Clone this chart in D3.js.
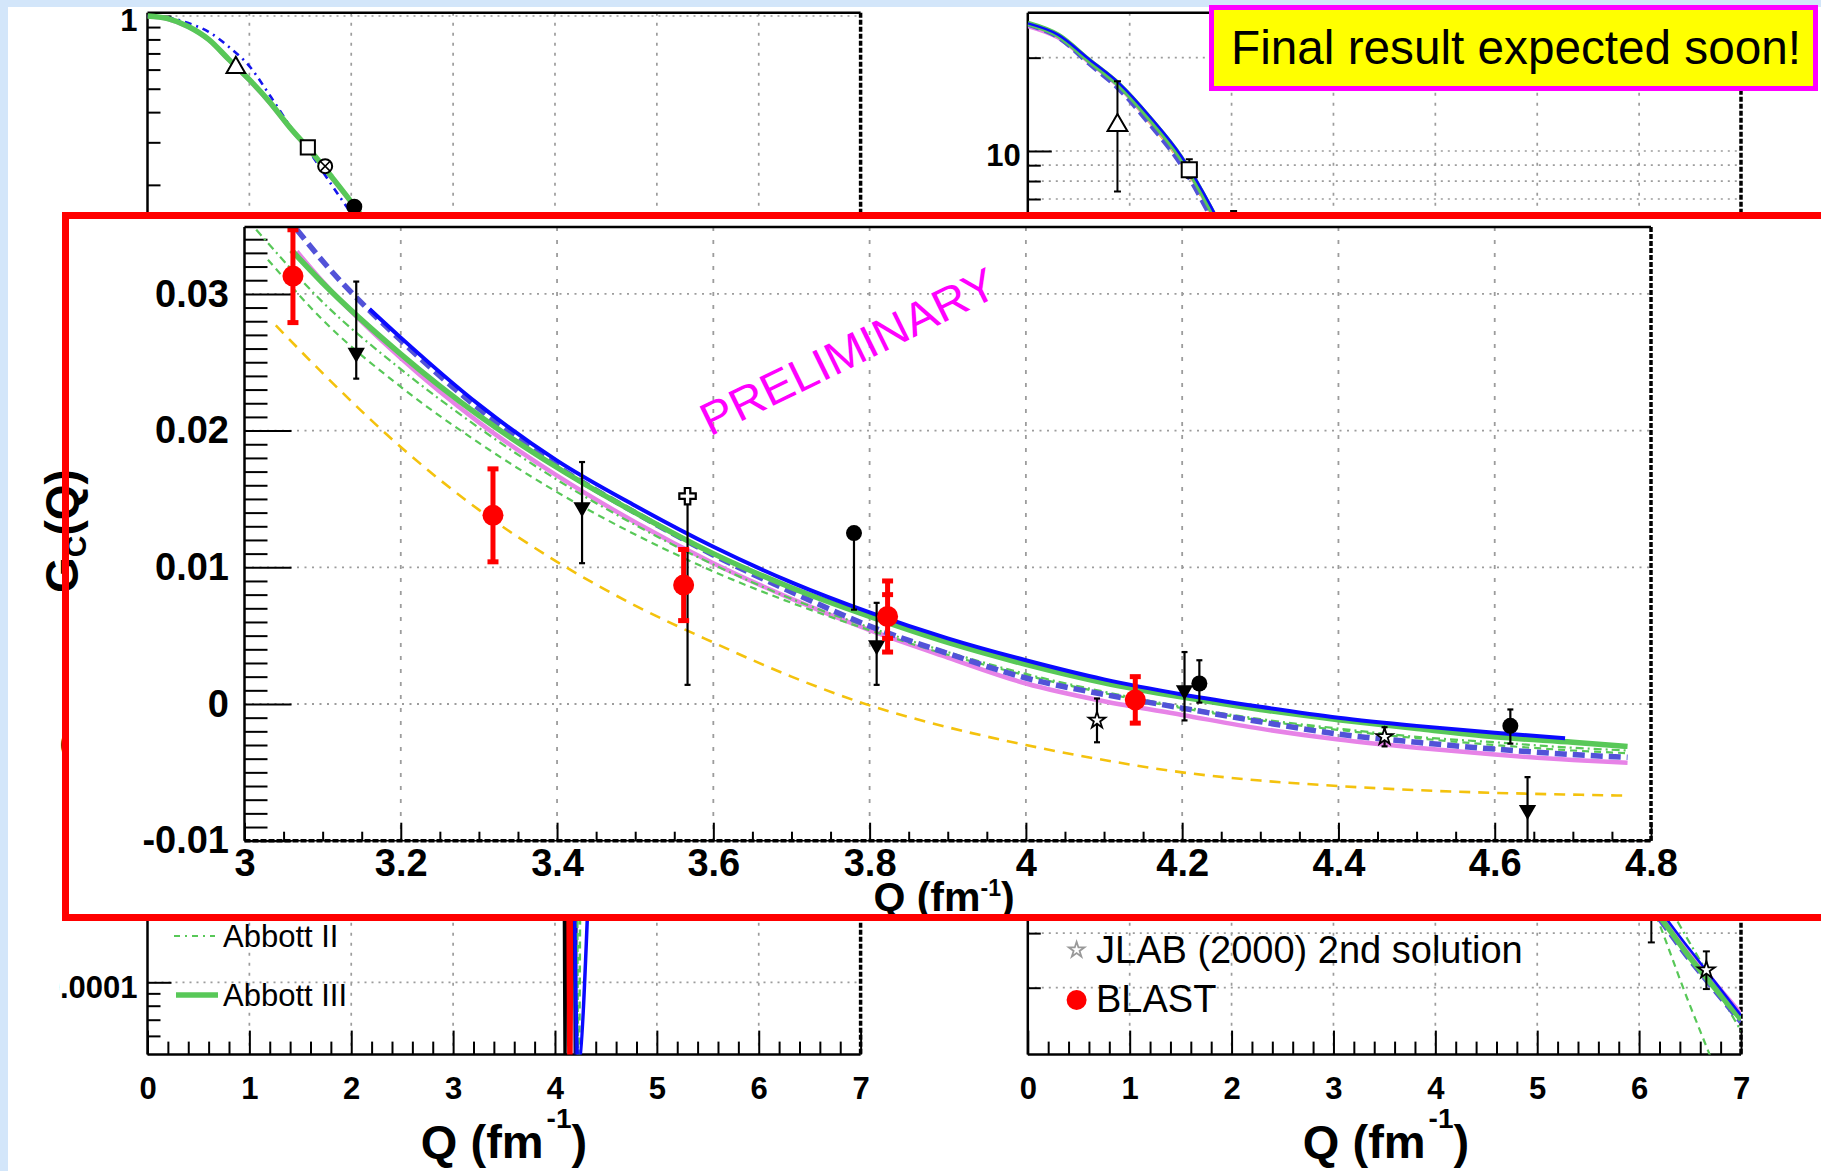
<!DOCTYPE html>
<html>
<head>
<meta charset="utf-8">
<title>Deuteron form factors</title>
<script src="https://cdn.jsdelivr.net/npm/d3@7/dist/d3.min.js"></script>
<style>
  html, body { margin: 0; padding: 0; background: #d3e6fa; overflow: hidden; }
  svg { display: block; }
  text { font-family: 'Liberation Sans', Arial, Helvetica, sans-serif; }
</style>
</head>
<body>
<svg id="slide" width="1821" height="1171"></svg>
<script>
// ================= zoomed panel: G_C(Q), 3 < Q < 4.8 fm^-1 =================
const zoomTickQ = [3, 3.2, 3.4, 3.6, 3.8, 4, 4.2, 4.4, 4.6, 4.8];
const zoomTickG = [-0.01, 0, 0.01, 0.02, 0.03];

const abbottIIIQ = [3.06, 3.1, 3.2, 3.3, 3.4, 3.5, 3.6, 3.7, 3.8, 3.9, 4.0, 4.1, 4.2, 4.3, 4.4, 4.5, 4.6, 4.7, 4.77];
const abbottIIIG = [0.0332, 0.0308, 0.0256, 0.0211, 0.0173, 0.0140, 0.0110, 0.0085, 0.0064, 0.0045, 0.0029, 0.00155, 0.0005, -0.0004, -0.00115, -0.0018, -0.0024, -0.0028, -0.0031];

const abbottIIQ = [3.015, 3.1, 3.2, 3.3, 3.4, 3.5, 3.6, 3.7, 3.8, 3.9, 4.0, 4.1, 4.2, 4.3, 4.4, 4.5, 4.6, 4.7, 4.77];
const abbottIIG = [0.0347, 0.0294, 0.0245, 0.0202, 0.0164, 0.0131, 0.0102, 0.0077, 0.0056, 0.0038, 0.0022, 0.0009, -0.0002, -0.0011, -0.0018, -0.0024, -0.0028, -0.0032, -0.0034];

const abbottIQ = [3.03, 3.1, 3.2, 3.3, 3.4, 3.5, 3.6, 3.7, 3.8, 3.9, 4.0, 4.1, 4.2, 4.3, 4.4, 4.5, 4.6, 4.7, 4.77];
const abbottIG = [0.0325, 0.0281, 0.0232, 0.0191, 0.0155, 0.0124, 0.0097, 0.0074, 0.0054, 0.0036, 0.0021, 0.0008, -0.0003, -0.0012, -0.0019, -0.0025, -0.0030, -0.0034, -0.0036];

const solidBlueQ = [3.16, 3.2, 3.3, 3.4, 3.5, 3.6, 3.7, 3.8, 3.9, 4.0, 4.1, 4.2, 4.3, 4.4, 4.5, 4.6, 4.69];
const solidBlueG = [0.0289, 0.0268, 0.0219, 0.0178, 0.0145, 0.0115, 0.0089, 0.0067, 0.0048, 0.0032, 0.0018, 0.0007, -0.0002, -0.0010, -0.0016, -0.0021, -0.0025];

const dashedBlueQ = [3.067, 3.1, 3.2, 3.3, 3.4, 3.5, 3.6, 3.7, 3.8, 3.9, 4.0, 4.1, 4.2, 4.3, 4.4, 4.5, 4.6, 4.7, 4.77];
const dashedBlueG = [0.0347, 0.0324, 0.0266, 0.0216, 0.0174, 0.0140, 0.0109, 0.0082, 0.0057, 0.0037, 0.0019, 0.0007, -0.0003, -0.0013, -0.0022, -0.0028, -0.0033, -0.0037, -0.0039];

const violetQ = [3.067, 3.1, 3.2, 3.3, 3.4, 3.5, 3.6, 3.7, 3.8, 3.9, 4.0, 4.1, 4.2, 4.3, 4.4, 4.5, 4.6, 4.7, 4.77];
const violetG = [0.0331, 0.0309, 0.0253, 0.0206, 0.0167, 0.0133, 0.0103, 0.0077, 0.0054, 0.0034, 0.0015, 0.0002, -0.0008, -0.0018, -0.0026, -0.0032, -0.0037, -0.0041, -0.0043];

const goldQ = [3.04, 3.1, 3.2, 3.3, 3.4, 3.5, 3.6, 3.7, 3.8, 3.9, 4.0, 4.1, 4.2, 4.3, 4.4, 4.5, 4.6, 4.7, 4.765];
const goldG = [0.0277, 0.0242, 0.0188, 0.0142, 0.0104, 0.0072, 0.0045, 0.0020, -0.0001, -0.0017, -0.0030, -0.0041, -0.0050, -0.0056, -0.0060, -0.0063, -0.0065, -0.00663, -0.0067];

// BLAST (preliminary)
const blastQ = [3.062, 3.318, 3.562, 3.823, 4.140];
const blastG = [0.0313, 0.0138, 0.0087, 0.0064, 0.0003];
const blastErr = [0.0034, 0.0034, 0.0026, 0.0026, 0.0017];
const blastInnerErr = [0, 0, 0, 0.0016, 0];

// earlier measurements
const triQ = [3.143, 3.432, 3.809, 4.203, 4.642];
const triG = [0.0257, 0.0144, 0.0043, 0.0010, -0.00775];
const triErrHi = [0.0052, 0.0033, 0.0031, 0.0028, 0.0024];
const triErrLo = [0.0019, 0.0041, 0.0029, 0.0022, 0.0022];

const dotQ = [3.780, 4.222, 4.620];
const dotG = [0.0125, 0.0015, -0.0016];
const dotErrHi = [0.0003, 0.0017, 0.0012];
const dotErrLo = [0.0056, 0.0014, 0.0013];

const crossQ = [3.567];
const crossG = [0.0152];
const crossErrHi = [0.0004];
const crossErrLo = [0.0138];

const starQ = [4.091, 4.459];
const starG = [-0.0012, -0.0024];
const starErr = [0.0016, 0.0007];

// ================= left panel: |G_C(Q)|, log scale =================
const leftTickQ = [0, 1, 2, 3, 4, 5, 6, 7];
const leftQ = [0, 0.2, 0.4, 0.6, 0.8, 1.0, 1.2, 1.4, 1.6, 1.8, 2.0, 2.2, 2.4];
const leftAbbottIII = [1.0, 0.975, 0.905, 0.80, 0.66, 0.545, 0.44, 0.345, 0.277, 0.218, 0.17, 0.13, 0.097];
const leftViolet = [0.995, 0.97, 0.9, 0.795, 0.655, 0.54, 0.436, 0.342, 0.274, 0.215, 0.168, 0.128, 0.096];
const leftDashDot = [1.0, 0.985, 0.935, 0.86, 0.745, 0.62, 0.47, 0.35, 0.27, 0.202, 0.152, 0.113, 0.083];

// minima of |G_C| near its zero crossing
const dipBlackQ = [4.085, 4.100, 4.115];
const dipRedQ = [4.13, 4.148, 4.166];
const dipNavyQ = [4.185, 4.200, 4.215];
const dipGreenQ = [4.215, 4.232, 4.249];
const dipG = [4e-4, 3e-5, 4e-4];
const dipBlueQ = [4.19, 4.226, 4.33];
const dipBlueG = [2.5e-4, 4.5e-5, 2.5e-4];

const leftTriQ = [0.867], leftTriG = [0.612];
const leftSquareQ = [1.574], leftSquareG = [0.286];
const leftCircleXQ = [1.744], leftCircleXG = [0.239];
const leftDotQ = [2.03], leftDotG = [0.1625];

const leftLegend = ['Abbott II', 'Abbott III'];

// ================= right panel: G_Q(Q), log scale =================
const rightTickQ = [0, 1, 2, 3, 4, 5, 6, 7];
const rightQ = [0, 0.3, 0.6, 0.9, 1.2, 1.5, 1.8, 2.1, 2.5, 3, 3.5, 4, 4.5, 5, 5.5, 6, 6.5, 7];
const rightAbbottIII = [25.8, 23.6, 19.6, 16.3, 12.7, 9.55, 6.46, 4.0, 2.0, 0.89, 0.43, 0.22, 0.126, 0.079, 0.055, 0.041, 0.025, 0.0158];
const rightSolidBlue = [25.8, 23.7, 19.8, 16.5, 12.9, 9.7, 6.6, 4.1, 2.05, 0.91, 0.44, 0.225, 0.13, 0.082, 0.057, 0.0425, 0.0265, 0.0163];
const rightDashedBlue = [25.6, 23.3, 19.2, 15.8, 12.2, 9.1, 6.1, 3.8, 1.9, 0.85, 0.41, 0.21, 0.12, 0.076, 0.053, 0.040, 0.0245, 0.0155];
const rightViolet = [25.3, 23.2, 19.4, 16.1, 12.5, 9.4, 6.35, 3.95, 1.98, 0.88, 0.425, 0.218, 0.125, 0.079, 0.0555, 0.0415, 0.0258, 0.0165];
const rightAbbottI = [25.8, 23.5, 19.5, 16.1, 12.5, 9.4, 6.3, 3.9, 1.95, 0.86, 0.41, 0.2, 0.12, 0.085, 0.068, 0.045, 0.0175, 0.0068];
const rightAbbottII = [25.8, 23.6, 19.7, 16.2, 12.6, 9.5, 6.4, 3.95, 1.97, 0.87, 0.42, 0.21, 0.125, 0.09, 0.07, 0.052, 0.0278, 0.0145];
const rightGoldQ = [0, 0.3, 0.6, 0.9, 1.2, 1.5, 1.8, 2.1, 2.5, 3, 3.5, 4, 4.5];
const rightGold = [25.5, 23.3, 19.4, 16.0, 12.3, 9.2, 6.2, 3.85, 1.9, 0.84, 0.40, 0.2, 0.11];

const rightTriQ = [0.88], rightTriG = [12.1], rightTriHi = [16.8], rightTriLo = [7.4];
const rightSquareQ = [1.585], rightSquareG = [8.7], rightSquareHi = [9.4], rightSquareLo = [8.2];
const rightDownQ = [2.02, 6.12], rightDownG = [4.3, 0.037], rightDownHi = [6.4, 0.041], rightDownLo = [2.9, 0.028];
const rightStarQ = [6.66], rightStarG = [0.0228], rightStarHi = [0.0262], rightStarLo = [0.0198];

const rightLegend = ['JLAB (2000) 2nd solution', 'BLAST'];

// ====================================================================
const svg = d3.select('#slide');
const defs = svg.append('defs');
const GRID = '#9c9c9c';
const GREEN = '#58c858';
let clipCount = 0;
function clipRect(x, y, w, h) {
  const id = 'clip' + (clipCount++);
  defs.append('clipPath').attr('id', id).append('rect')
    .attr('x', x).attr('y', y).attr('width', w).attr('height', h);
  return `url(#${id})`;
}
const zip = (Q, V) => Q.map((q, i) => [q, V[i]]);

function curve(g, xs, ys, Q, V, st) {
  g.append('path').datum(zip(Q, V))
    .attr('fill', 'none')
    .attr('stroke', st.color)
    .attr('stroke-width', st.width)
    .attr('stroke-dasharray', st.dash || null)
    .attr('d', d3.line().x(d => xs(d[0])).y(d => ys(d[1])).curve(d3.curveMonotoneX));
}

function errBar(g, X, y1, y2, color, width, capW) {
  g.append('line').attr('x1', X).attr('x2', X).attr('y1', y1).attr('y2', y2)
    .attr('stroke', color).attr('stroke-width', width);
  if (capW > 0) {
    [y1, y2].forEach(yy => g.append('line')
      .attr('x1', X - capW / 2).attr('x2', X + capW / 2).attr('y1', yy).attr('y2', yy)
      .attr('stroke', color).attr('stroke-width', width));
  }
}

function marker(g, kind, X, Y, size) {
  const s = d3.symbol();
  if (kind === 'triUpOpen') {
    g.append('path').attr('d', s.type(d3.symbolTriangle).size(size)())
      .attr('transform', `translate(${X},${Y})`)
      .attr('fill', '#fff').attr('stroke', '#000').attr('stroke-width', 2);
  } else if (kind === 'triDown') {
    g.append('path').attr('d', s.type(d3.symbolTriangle).size(size)())
      .attr('transform', `translate(${X},${Y}) rotate(180)`).attr('fill', '#000');
  } else if (kind === 'squareOpen') {
    g.append('path').attr('d', s.type(d3.symbolSquare).size(size)())
      .attr('transform', `translate(${X},${Y})`)
      .attr('fill', '#fff').attr('stroke', '#000').attr('stroke-width', 2);
  } else if (kind === 'dot') {
    g.append('circle').attr('cx', X).attr('cy', Y).attr('r', size).attr('fill', '#000');
  } else if (kind === 'red') {
    g.append('circle').attr('cx', X).attr('cy', Y).attr('r', size).attr('fill', '#ff0000');
  } else if (kind === 'circleX') {
    g.append('circle').attr('cx', X).attr('cy', Y).attr('r', size)
      .attr('fill', '#fff').attr('stroke', '#000').attr('stroke-width', 2);
    const k = size * 0.7;
    g.append('path').attr('d', `M${X - k},${Y - k}L${X + k},${Y + k}M${X - k},${Y + k}L${X + k},${Y - k}`)
      .attr('stroke', '#000').attr('stroke-width', 1.6);
  } else if (kind === 'starOpen' || kind === 'starGrey') {
    g.append('path').attr('d', s.type(d3.symbolStar).size(size)())
      .attr('transform', `translate(${X},${Y})`)
      .attr('fill', '#fff').attr('stroke', kind === 'starGrey' ? '#999' : '#000').attr('stroke-width', 1.8);
  } else if (kind === 'crossOpen') {
    g.append('path').attr('d', s.type(d3.symbolCross).size(size)())
      .attr('transform', `translate(${X},${Y})`)
      .attr('fill', '#fff').attr('stroke', '#000').attr('stroke-width', 2.2);
  }
}

function styleAxisText(sel, size) {
  sel.selectAll('text').attr('fill', '#000').attr('font-size', size).attr('font-weight', 'bold')
    .style('font-family', "'Liberation Sans', Arial, Helvetica, sans-serif");
  sel.selectAll('line').attr('stroke', '#000').attr('stroke-width', 2);
  sel.select('.domain').remove();
}

// ---------- page ----------
svg.append('rect').attr('width', 1821).attr('height', 1171).attr('fill', '#d3e6fa');
svg.append('rect').attr('x', 8).attr('y', 7).attr('width', 1813).attr('height', 1164).attr('fill', '#fff');

// ---------- generic log-scale panel ----------
function logPanel(opt) {
  const root = svg.append('g');
  if (opt.clipLeft) root.attr('clip-path', clipRect(opt.clipLeft, 0, 1821, 1171));
  const xs = d3.scaleLinear().domain([0, 7]).range([opt.x0, opt.x1]);
  const ys = d3.scaleLog().domain(opt.yDomain).range([opt.yBot, opt.yTop]);
  const [lo, hi] = opt.yDomain;
  const decades = [], others = [];
  for (let k = -6; k <= 2; k++) {
    for (let n = 1; n <= 9; n++) {
      const v = +(n * Math.pow(10, k)).toPrecision(3);
      if (v < lo || v > hi) continue;
      (n === 1 ? decades : others).push(v);
    }
  }
  // grid
  const grid = root.append('g').attr('stroke', GRID).attr('stroke-width', 1.7).attr('fill', 'none');
  [1, 2, 3, 4, 5, 6].forEach(q => grid.append('line')
    .attr('x1', xs(q)).attr('x2', xs(q)).attr('y1', opt.yTop).attr('y2', opt.yBot)
    .attr('stroke-dasharray', '3,7'));
  const gridY = opt.gridAll ? decades.concat(others) : decades;
  gridY.forEach(v => grid.append('line')
    .attr('x1', opt.x0).attr('x2', opt.x1).attr('y1', ys(v)).attr('y2', ys(v))
    .attr('stroke-dasharray', '2,5'));

  // axes with inward ticks
  const minorQ = d3.range(0, 36).filter(i => i % 5 !== 0).map(i => i / 5);
  root.append('g').attr('transform', `translate(0,${opt.yBot})`)
    .call(d3.axisBottom(xs).tickValues(minorQ).tickSize(-13).tickFormat(''))
    .call(s => styleAxisText(s, 31));
  root.append('g').attr('transform', `translate(0,${opt.yBot})`)
    .call(d3.axisBottom(xs).tickValues(opt.tickQ).tickSize(-24).tickPadding(22.5).tickFormat(d3.format('d')))
    .call(s => styleAxisText(s, 31));
  root.append('g').attr('transform', `translate(${opt.x0},0)`)
    .call(d3.axisLeft(ys).tickValues(others).tickSize(-13).tickFormat(''))
    .call(s => styleAxisText(s, 31));
  root.append('g').attr('transform', `translate(${opt.x0},0)`)
    .call(d3.axisLeft(ys).tickValues(decades).tickSize(-24).tickPadding(opt.labelPad).tickFormat(v => String(v)))
    .call(s => styleAxisText(s, 31))
    .call(s => s.selectAll('text').attr('dy', '0.48em'));

  // frame
  const fr = root.append('g').attr('stroke', '#000').attr('fill', 'none');
  fr.append('line').attr('x1', opt.x0).attr('x2', opt.x1).attr('y1', opt.yTop).attr('y2', opt.yTop).attr('stroke-width', 2.5);
  fr.append('line').attr('x1', opt.x0).attr('x2', opt.x0).attr('y1', opt.yTop).attr('y2', opt.yBot).attr('stroke-width', 2.5);
  fr.append('line').attr('x1', opt.x0).attr('x2', opt.x1).attr('y1', opt.yBot).attr('y2', opt.yBot).attr('stroke-width', 2.5);
  fr.append('line').attr('x1', opt.x1).attr('x2', opt.x1).attr('y1', opt.yTop).attr('y2', opt.yBot)
    .attr('stroke-width', 3.5).attr('stroke-dasharray', '5,2');

  // x title
  const t = root.append('text').attr('x', opt.titleX).attr('y', 1158).attr('text-anchor', 'middle')
    .attr('font-size', 47).attr('font-weight', 'bold').attr('fill', '#000');
  t.append('tspan').text('Q (fm');
  t.append('tspan').attr('font-size', 28).attr('dy', -30).attr('dx', 3).text('-1');
  t.append('tspan').attr('dy', 30).text(')');

  const plot = root.append('g').attr('clip-path', clipRect(opt.x0, opt.yTop, opt.x1 - opt.x0, opt.yBot - opt.yTop));
  return { root, plot, xs, ys };
}

// ---------- left panel ----------
const LP = logPanel({ x0: 147.5, x1: 860.6, yTop: 12.7, yBot: 1054.6, yDomain: [5.02e-5, 1.032],
  tickQ: leftTickQ, labelPad: 10, titleX: 504, clipLeft: 59, gridAll: false });
curve(LP.plot, LP.xs, LP.ys, leftQ, leftViolet, { color: '#e783e7', width: 4 });
curve(LP.plot, LP.xs, LP.ys, leftQ, leftDashDot, { color: '#1515ee', width: 2.6, dash: '7,5,2,5' });
curve(LP.plot, LP.xs, LP.ys, leftQ, leftAbbottIII, { color: GREEN, width: 5.5 });
curve(LP.plot, LP.xs, LP.ys, dipBlackQ, dipG, { color: '#000', width: 2.5 });
curve(LP.plot, LP.xs, LP.ys, dipRedQ, dipG, { color: '#ff0000', width: 4.5 });
curve(LP.plot, LP.xs, LP.ys, dipNavyQ, dipG, { color: '#101070', width: 2.5 });
curve(LP.plot, LP.xs, LP.ys, dipGreenQ, dipG, { color: GREEN, width: 2.5, dash: '7,5' });
curve(LP.plot, LP.xs, LP.ys, dipBlueQ, dipBlueG, { color: '#0a0aff', width: 3.5 });
marker(LP.plot, 'triUpOpen', LP.xs(leftTriQ[0]), LP.ys(leftTriG[0]), 150);
marker(LP.plot, 'squareOpen', LP.xs(leftSquareQ[0]), LP.ys(leftSquareG[0]), 200);
marker(LP.plot, 'circleX', LP.xs(leftCircleXQ[0]), LP.ys(leftCircleXG[0]), 7);
marker(LP.plot, 'dot', LP.xs(leftDotQ[0]), LP.ys(leftDotG[0]), 8);

// legend (lower part of the left panel)
const lLeg = LP.root.append('g');
lLeg.append('line').attr('x1', 174).attr('x2', 215).attr('y1', 936).attr('y2', 936)
  .attr('stroke', GREEN).attr('stroke-width', 2.2).attr('stroke-dasharray', '6,5,2,5');
lLeg.append('line').attr('x1', 176).attr('x2', 218).attr('y1', 995).attr('y2', 995)
  .attr('stroke', GREEN).attr('stroke-width', 5.5);
leftLegend.forEach((s, i) => lLeg.append('text').attr('x', 223).attr('y', [947, 1006][i])
  .attr('font-size', 31).attr('fill', '#000').text(s));

// ---------- right panel ----------
const RP = logPanel({ x0: 1027.8, x1: 1741, yTop: 12.7, yBot: 1054.6, yDomain: [0.01217, 27.93],
  tickQ: rightTickQ, labelPad: 7, titleX: 1386, clipLeft: 0, gridAll: true });
curve(RP.plot, RP.xs, RP.ys, rightGoldQ, rightGold, { color: '#f4c20d', width: 2.5, dash: '10,7' });
curve(RP.plot, RP.xs, RP.ys, rightQ, rightViolet, { color: '#e783e7', width: 4.5 });
curve(RP.plot, RP.xs, RP.ys, rightQ, rightAbbottI, { color: GREEN, width: 2.2, dash: '7,5' });
curve(RP.plot, RP.xs, RP.ys, rightQ, rightAbbottII, { color: GREEN, width: 2.2, dash: '8,4,2,4' });
curve(RP.plot, RP.xs, RP.ys, rightQ, rightDashedBlue, { color: '#5252d8', width: 5, dash: '12,6' });
curve(RP.plot, RP.xs, RP.ys, rightQ, rightAbbottIII, { color: GREEN, width: 5.5 });
curve(RP.plot, RP.xs, RP.ys, rightQ, rightSolidBlue, { color: '#0a0aff', width: 2.5 });
function logPoints(P, kind, Q, G, Hi, Lo, size) {
  Q.forEach((q, i) => {
    errBar(P.plot, P.xs(q), P.ys(Hi[i]), P.ys(Lo[i]), '#000', 2, 7);
    marker(P.plot, kind, P.xs(q), P.ys(G[i]), size);
  });
}
logPoints(RP, 'triUpOpen', rightTriQ, rightTriG, rightTriHi, rightTriLo, 170);
logPoints(RP, 'squareOpen', rightSquareQ, rightSquareG, rightSquareHi, rightSquareLo, 230);
logPoints(RP, 'triDown', rightDownQ, rightDownG, rightDownHi, rightDownLo, 130);
logPoints(RP, 'starOpen', rightStarQ, rightStarG, rightStarHi, rightStarLo, 90);

const rLeg = RP.root.append('g');
marker(rLeg, 'starGrey', 1076.6, 950, 75);
marker(rLeg, 'red', 1076.6, 1000, 10);
rightLegend.forEach((s, i) => rLeg.append('text').attr('x', 1096).attr('y', [963, 1012][i])
  .attr('font-size', 38).attr('fill', '#000').text(s));

// ---------- note box ----------
svg.append('rect').attr('x', 1211.5).attr('y', 7.5).attr('width', 604).attr('height', 81)
  .attr('fill', '#ffff00').attr('stroke', '#ff00ff').attr('stroke-width', 5);
svg.append('text').attr('x', 1231).attr('y', 64).attr('font-size', 48).attr('fill', '#000')
  .attr('textLength', 570).attr('lengthAdjust', 'spacingAndGlyphs')
  .text('Final result expected soon!');

// ---------- zoomed G_C panel ----------
const Z = { x0: 244.5, x1: 1651, yTop: 226.9, yBot: 840.7 };
const zx = d3.scaleLinear().domain([3, 4.8]).range([Z.x0, Z.x1]);
const zy = d3.scaleLinear().domain([-0.01, 0.0349]).range([Z.yBot, Z.yTop]);
const zg = svg.append('g');
zg.append('rect').attr('x', 62).attr('y', 212).attr('width', 1780).attr('height', 709).attr('fill', '#fff');

// y title
const yt = zg.append('text').attr('transform', 'translate(78,531) rotate(-90)')
  .attr('text-anchor', 'middle').attr('font-size', 46).attr('font-weight', 'bold').attr('fill', '#000');
yt.append('tspan').text('G');
yt.append('tspan').attr('font-size', 30).attr('dy', 8).text('C');
yt.append('tspan').attr('dy', -8).text('(Q)');

// grid
const zgrid = zg.append('g').attr('stroke', GRID).attr('stroke-width', 1.8).attr('fill', 'none');
zoomTickQ.filter(q => q > 3 && q < 4.8).forEach(q => zgrid.append('line')
  .attr('x1', zx(q)).attr('x2', zx(q)).attr('y1', Z.yTop).attr('y2', Z.yBot).attr('stroke-dasharray', '4,9'));
zoomTickG.filter(v => v > -0.01).forEach(v => zgrid.append('line')
  .attr('x1', Z.x0).attr('x2', Z.x1).attr('y1', zy(v)).attr('y2', zy(v)).attr('stroke-dasharray', '2,5.5'));

// axes
const zMinorQ = d3.range(60, 97).filter(i => i % 4 !== 0).map(i => i / 20);
const zMinorG = d3.range(-10, 35).filter(i => i % 10 !== 0).map(i => i / 1000);
zg.append('g').attr('transform', `translate(0,${Z.yBot})`)
  .call(d3.axisBottom(zx).tickValues(zMinorQ).tickSize(-9).tickFormat(''))
  .call(s => styleAxisText(s, 38));
zg.append('g').attr('transform', `translate(0,${Z.yBot})`)
  .call(d3.axisBottom(zx).tickValues(zoomTickQ).tickSize(-18).tickPadding(8).tickFormat(d => String(+d.toFixed(1))))
  .call(s => styleAxisText(s, 38));
zg.append('g').attr('transform', `translate(${Z.x0},0)`)
  .call(d3.axisLeft(zy).tickValues(zMinorG).tickSize(-23).tickFormat(''))
  .call(s => styleAxisText(s, 38));
zg.append('g').attr('transform', `translate(${Z.x0},0)`)
  .call(d3.axisLeft(zy).tickValues(zoomTickG).tickSize(-47).tickPadding(15.5)
    .tickFormat(v => v === 0 ? '0' : String(+v.toFixed(2))))
  .call(s => styleAxisText(s, 38));

// x title
const xt = zg.append('text').attr('x', 944).attr('y', 911).attr('text-anchor', 'middle')
  .attr('font-size', 41).attr('font-weight', 'bold').attr('fill', '#000');
xt.append('tspan').text('Q (fm');
xt.append('tspan').attr('font-size', 23).attr('dy', -15).text('-1');
xt.append('tspan').attr('dy', 15).text(')');

// curves
const zp = zg.append('g').attr('clip-path', clipRect(Z.x0, Z.yTop, Z.x1 - Z.x0, Z.yBot - Z.yTop));
curve(zp, zx, zy, goldQ, goldG, { color: '#f4c20d', width: 2.6, dash: '11,8' });
curve(zp, zx, zy, violetQ, violetG, { color: '#e783e7', width: 4.5 });
curve(zp, zx, zy, abbottIQ, abbottIG, { color: GREEN, width: 2.2, dash: '7,5' });
curve(zp, zx, zy, abbottIIQ, abbottIIG, { color: GREEN, width: 2.2, dash: '8,4,2,4' });
curve(zp, zx, zy, dashedBlueQ, dashedBlueG, { color: '#5252d8', width: 5.5, dash: '12,6' });
curve(zp, zx, zy, abbottIIIQ, abbottIIIG, { color: GREEN, width: 5.5 });
curve(zp, zx, zy, solidBlueQ, solidBlueG, { color: '#0a0aff', width: 4 });

// earlier data
function zPoints(kind, Q, G, Hi, Lo, size) {
  Q.forEach((q, i) => {
    errBar(zp, zx(q), zy(G[i] + Hi[i]), zy(G[i] - Lo[i]), '#000', 2.2, 6);
    marker(zp, kind, zx(q), zy(G[i]), size);
  });
}
zPoints('triDown', triQ, triG, triErrHi, triErrLo, 130);
zPoints('dot', dotQ, dotG, dotErrHi, dotErrLo, 8);
zPoints('crossOpen', crossQ, crossG, crossErrHi, crossErrLo, 150);
zPoints('starOpen', starQ, starG, starErr, starErr, 85);

// BLAST
blastQ.forEach((q, i) => {
  errBar(zp, zx(q), zy(blastG[i] + blastErr[i]), zy(blastG[i] - blastErr[i]), '#ff0000', 5, 11);
  if (blastInnerErr[i] > 0) {
    [1, -1].forEach(sgn => zp.append('line')
      .attr('x1', zx(q) - 5.5).attr('x2', zx(q) + 5.5)
      .attr('y1', zy(blastG[i] + sgn * blastInnerErr[i])).attr('y2', zy(blastG[i] + sgn * blastInnerErr[i]))
      .attr('stroke', '#ff0000').attr('stroke-width', 5));
  }
  marker(zp, 'red', zx(q), zy(blastG[i]), 10.5);
});

// watermark
zg.append('text').attr('transform', 'translate(848,351) rotate(-26)')
  .attr('text-anchor', 'middle').attr('dy', '0.36em')
  .attr('font-size', 46).attr('fill', '#ff00ff')
  .attr('textLength', 323).attr('lengthAdjust', 'spacingAndGlyphs')
  .text('PRELIMINARY');

// frame
const zf = zg.append('g').attr('stroke', '#000').attr('fill', 'none');
zf.append('line').attr('x1', Z.x0).attr('x2', Z.x1).attr('y1', Z.yTop).attr('y2', Z.yTop).attr('stroke-width', 2.5);
zf.append('line').attr('x1', Z.x0).attr('x2', Z.x0).attr('y1', Z.yTop).attr('y2', Z.yBot).attr('stroke-width', 2.5);
zf.append('line').attr('x1', Z.x0).attr('x2', Z.x1).attr('y1', Z.yBot).attr('y2', Z.yBot).attr('stroke-width', 1.5);
zf.append('line').attr('x1', Z.x0).attr('x2', Z.x1).attr('y1', Z.yBot).attr('y2', Z.yBot).attr('stroke-width', 3.5).attr('stroke-dasharray', '6,2');
zf.append('line').attr('x1', Z.x1).attr('x2', Z.x1).attr('y1', Z.yTop).attr('y2', Z.yBot).attr('stroke-width', 3.5).attr('stroke-dasharray', '5,2');

// red outline of the zoomed panel
zg.append('rect').attr('x', 65.5).attr('y', 215.5).attr('width', 1800).attr('height', 702)
  .attr('fill', 'none').attr('stroke', '#ff0000').attr('stroke-width', 7);
</script>
</body>
</html>
